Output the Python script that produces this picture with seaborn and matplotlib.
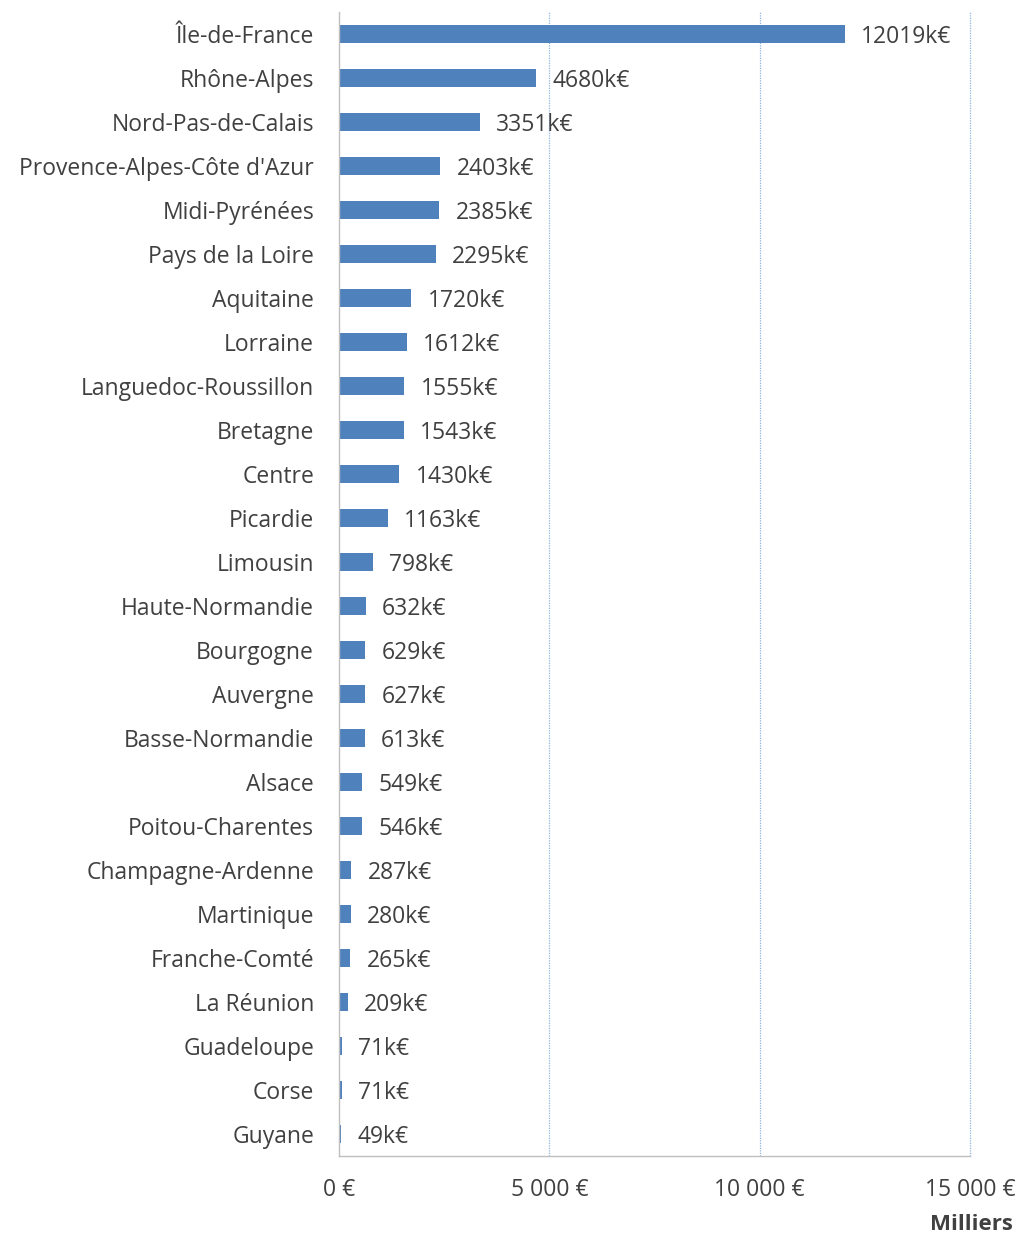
import matplotlib
matplotlib.use("Agg")
import matplotlib.pyplot as plt
import seaborn as sns
import pandas as pd

regions = ["Île-de-France", "Rhône-Alpes", "Nord-Pas-de-Calais", "Provence-Alpes-Côte d'Azur",
           "Midi-Pyrénées", "Pays de la Loire", "Aquitaine", "Lorraine", "Languedoc-Roussillon",
           "Bretagne", "Centre", "Picardie", "Limousin", "Haute-Normandie", "Bourgogne",
           "Auvergne", "Basse-Normandie", "Alsace", "Poitou-Charentes", "Champagne-Ardenne",
           "Martinique", "Franche-Comté", "La Réunion", "Guadeloupe", "Corse", "Guyane"]
values = [12019, 4680, 3351, 2403, 2385, 2295, 1720, 1612, 1555, 1543, 1430, 1163, 798,
          632, 629, 627, 613, 549, 546, 287, 280, 265, 209, 71, 71, 49]
xticks = [0, 5000, 10000, 15000]
xtick_labels = ["0 €", "5 000 €", "10 000 €", "15 000 €"]

sns.set_theme(style="white")
plt.rcParams['font.family'] = ['Open Sans', 'DejaVu Sans']

df = pd.DataFrame({"region": regions, "value": values})

fig = plt.figure(figsize=(10.21, 12.38), dpi=100)
ax = fig.add_axes([339/1021, 1 - 1156/1238, (970-339)/1021, (1156-12)/1238])

sns.barplot(data=df, y="region", x="value", orient="h", color="#4F81BD",
            saturation=1, width=0.4, ax=ax, edgecolor="#4F81BD", linewidth=0)

fs = 16.5
ax.set_xlim(0, 15000)
ax.set_ylim(len(regions) - 0.5, -0.5)
ax.set_xticks(xticks)
ax.set_xticklabels(xtick_labels, fontsize=fs, color="#404040")
ax.tick_params(axis='x', length=0, pad=16)
ax.tick_params(axis='y', length=0, pad=18, labelsize=fs, labelcolor="#404040")
ax.set_xlabel("")
ax.set_ylabel("")

for x in xticks[1:]:
    ax.axvline(x, color="#8EB4E3", linestyle=(0, (1, 1)), linewidth=0.9, zorder=0, clip_on=False)

for s in ["top", "right"]:
    ax.spines[s].set_visible(False)
for s in ["left", "bottom"]:
    ax.spines[s].set_color("#BFBFBF")
    ax.spines[s].set_linewidth(1.0)

for i, v in enumerate(values):
    ax.text(v + 390, i, f"{v}k€", va="center_baseline", ha="left", fontsize=fs, color="#404040")

fig.text(1013/1021, 1 - 1225/1238, "Milliers", ha="right", va="center",
         fontsize=16, fontweight="bold", color="#404040")

fig.savefig("out.png", dpi=100)
